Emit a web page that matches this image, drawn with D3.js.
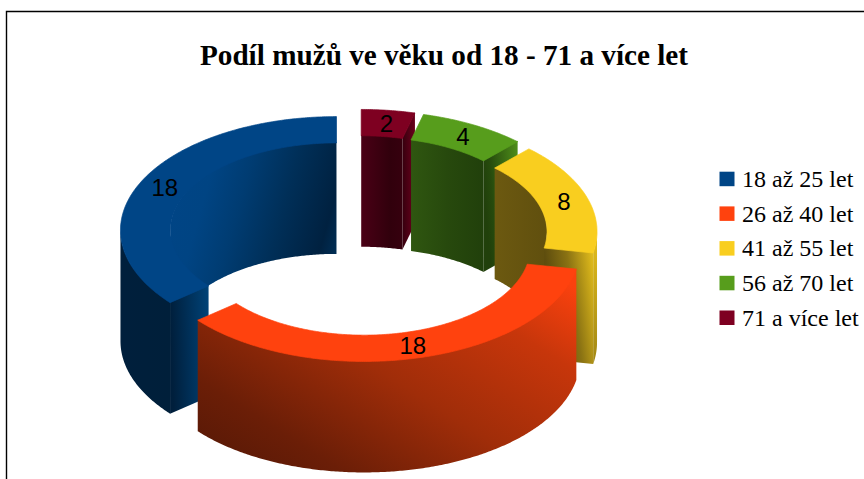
<!DOCTYPE html>
<html><head><meta charset="utf-8">
<script src="https://cdn.jsdelivr.net/npm/d3@7"></script>
<style>html,body{margin:0;padding:0;background:#fff;overflow:hidden}svg{display:block}</style>
</head><body><svg id="c" width="864" height="479"></svg>
<script>
const categories = ["18 až 25 let","26 až 40 let","41 až 55 let","56 až 70 let","71 a více let"];
const values = [18,18,8,4,2];
const colors = ["#004586","#ff420e","#f9ce1f","#579d1c","#7e0021"];
const titleText = "Podíl mužů ve věku od 18 - 71 a více let";

// surface shading: [x1,y1,x2,y2,[offset,colour]...]
const shades = {
  inner: [
    [0,.15,1,.5,[[0,"#004586"],[.22,"#004483"],[.42,"#003c72"],[.66,"#002f58"],[.92,"#002140"],[1,"#002c52"]]],
    null,
    [0,0,1,0,[[0,"#6c5910"],[1,"#604f0e"]]],
    [0,0,1,0,[[0,"#2f5610"],[.5,"#27490d"],[1,"#21400b"]]],
    [0,0,1,0,[[0,"#4a0016"],[.7,"#31000c"],[1,"#36000e"]]]
  ],
  outer: [
    [0,0,1,0,[[0,"#001f3c"],[1,"#001f3a"]]],
    [0,.95,1,.1,[[0,"#551806"],[.2,"#6b1e07"],[.5,"#a02d09"],[.8,"#c7360b"],[1,"#fa410e"]]],
    [0,0,0,1,[[0,"#e6c01c"],[1,"#a08614"]]],
    null,null
  ],
  cap: [
    [0,.1,1,0,[[0,"#001f3c"],[1,"#004378"]]],
    null,
    [0,.33,1,0,[[0,"#5a4a0d"],[.1,"#5f4e0e"],[.5,"#8a7213"],[1,"#e6c01c"]]],
    [0,.33,1,0,[[0,"#21400b"],[.2,"#264a0d"],[1,"#4f8f1a"]]],
    [0,0,1,0,[[0,"#36000e"],[1,"#6a001c"]]]
  ]
};

const W = 864, H = 479;
const cx = 358.2, cy = 235.6;
const rxOuter = 216, rxInner = 166, tilt = 0.526, depth = 111, explode = 24;
const tuck = -1;     // walls start just under the top face, so no seam shows
const overlap = 0.06; // inner walls run a little past the ring's turning point

const svg = d3.select("#c");
const defs = svg.append("defs");

// frame
svg.append("path").attr("d",`M6.5,${H}V11.5H${W}`).attr("fill","none").attr("stroke","#000").attr("stroke-width",1.4);

svg.append("text").attr("x",444).attr("y",65).attr("text-anchor","middle")
  .attr("font-family","Liberation Serif").attr("font-weight","bold").attr("font-size",29.2).attr("fill","#000").text(titleText);

const pie = d3.pie().sort(null).startAngle(0).endAngle(2*Math.PI);
const slices = pie(values).map((d,i)=>{
  const mid = (d.startAngle+d.endAngle)/2;
  return {i, a0:d.startAngle, a1:d.endAngle, mid,
    cx: cx - explode*Math.sin(mid),
    cy: cy - explode*tilt*Math.cos(mid), value:d.value};
});

const pt = (s,r,a,dz=0)=>[s.cx - r*Math.sin(a), s.cy - r*tilt*Math.cos(a) + dz];
const line = d3.line();
const arcPts = (s,r,a,b,dz=0)=>{
  const n = Math.max(2,Math.ceil(Math.abs(b-a)/0.01));
  return d3.range(n+1).map(k=>pt(s,r,a+(b-a)*k/n,dz));
};
const wall = (s,r,a,b)=> line(arcPts(s,r,a,b,tuck).concat(arcPts(s,r,b,a,depth)))+"Z";
const capPath = (s,a)=> line([pt(s,rxOuter,a,tuck),pt(s,rxInner,a,tuck),pt(s,rxInner,a,depth),pt(s,rxOuter,a,depth)])+"Z";
const topPath = s => line(arcPts(s,rxOuter,s.a0,s.a1).concat(arcPts(s,rxInner,s.a1,s.a0)))+"Z";

function fill(kind,i){
  const g = shades[kind][i];
  if(!g) return colors[i];
  const id = `g-${kind}-${i}`;
  const lg = defs.append("linearGradient").attr("id",id)
    .attr("x1",g[0]).attr("y1",g[1]).attr("x2",g[2]).attr("y2",g[3]);
  g[4].forEach(st=>lg.append("stop").attr("offset",st[0]).attr("stop-color",st[1]));
  return `url(#${id})`;
}

const HALF = Math.PI/2, TWO = 2*Math.PI;
const order = slices.slice().sort((a,b)=>a.cy-b.cy);
const chart = svg.append("g");
order.forEach(s=>{
  const g = chart.append("g");
  // inner wall: visible where it lies on the far half of the ring
  [[0,HALF+overlap],[3*HALF-overlap,TWO]].forEach(([lo,hi])=>{
    const a=Math.max(s.a0,lo), b=Math.min(s.a1,hi);
    if(b>a) g.append("path").attr("d",wall(s,rxInner,a,b)).attr("fill",fill("inner",s.i));
  });
  // end faces turned to the viewer
  if(Math.sin(s.a0)<-1e-6) g.append("path").attr("d",capPath(s,s.a0)).attr("fill",fill("cap",s.i));
  if(Math.sin(s.a1)>1e-6) g.append("path").attr("d",capPath(s,s.a1)).attr("fill",fill("cap",s.i));
  // outer wall: near half of the ring
  {
    const a=Math.max(s.a0,HALF), b=Math.min(s.a1,3*HALF);
    if(b>a) g.append("path").attr("d",wall(s,rxOuter,a,b)).attr("fill",fill("outer",s.i));
  }
  g.append("path").attr("d",topPath(s)).attr("fill",colors[s.i])
    .attr("stroke",colors[s.i]).attr("stroke-width",0.7).attr("stroke-linejoin","round");
});

// value labels on the top faces
svg.append("g").selectAll("text").data(slices).join("text")
  .attr("x",d=>pt(d,(rxOuter+rxInner)/2,d.mid)[0]+1.2)
  .attr("y",d=>pt(d,(rxOuter+rxInner)/2,d.mid)[1]+9)
  .attr("text-anchor","middle").attr("font-family","Liberation Sans").attr("font-size",24).attr("fill","#000")
  .text(d=>d.value);

// legend
const ly = d3.scalePoint().domain(categories).range([179,317.8]);
const leg = svg.append("g").selectAll("g").data(categories).join("g")
  .attr("transform",d=>`translate(719.5,${ly(d)})`);
leg.append("rect").attr("x",0).attr("y",-7.3).attr("width",15).attr("height",14.5).attr("fill",(d,i)=>colors[i]);
leg.append("text").attr("x",22.5).attr("y",8).attr("font-family","Liberation Serif").attr("font-size",24).attr("fill","#000").text(d=>d);
</script></body></html>
